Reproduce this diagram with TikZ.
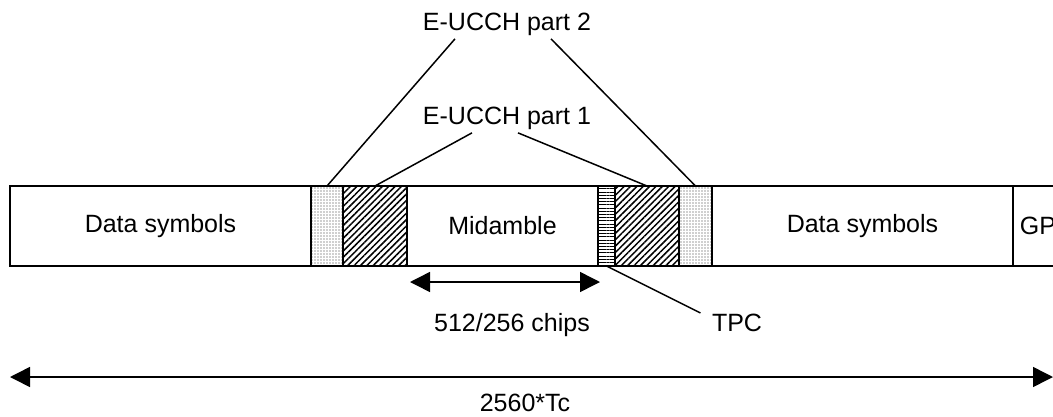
\documentclass[tikz,border=0pt]{standalone}
\usepackage{fontspec}
\setmainfont{Liberation Sans}
\usetikzlibrary{positioning, patterns.meta, arrows.meta, calc}

\tikzset{
    seg/.style={draw, line width=1.5pt, minimum height=80pt, inner sep=0pt, outer sep=0pt},
    dotbox/.style={seg, pattern={Dots[distance=3pt, radius=0.55pt]}, pattern color=black!80},
    hatchbox/.style={seg, pattern={Lines[angle=45, distance=4.5pt, line width=1.5pt]}},
    tpcbox/.style={seg, pattern={Lines[angle=0, distance=3.2pt, line width=1pt]}},
    lead/.style={line width=1.5pt},
}

\begin{document}
\begin{tikzpicture}[x=1pt, y=-1pt, >={Triangle[length=20pt, width=20pt]}, font=\fontsize{25}{30}\selectfont]
    \useasboundingbox (0,0) rectangle (1053,416);
    \clip (0,0) rectangle (1053,416);
    % the burst
    \node[seg, minimum width=301pt, anchor=west] (data1) at (10,226) {Data symbols};
    \node[dotbox, minimum width=32pt, right=0pt of data1] (dots1) {};
    \node[hatchbox, minimum width=64pt, right=0pt of dots1] (hatch1) {};
    \node[seg, minimum width=191pt, right=0pt of hatch1] (mid) {Midamble};
    \node[tpcbox, minimum width=17pt, right=0pt of mid] (tpc) {};
    \node[hatchbox, minimum width=64pt, right=0pt of tpc] (hatch2) {};
    \node[dotbox, minimum width=33pt, right=0pt of hatch2] (dots2) {};
    \node[seg, minimum width=301pt, right=0pt of dots2] (data2) {Data symbols};
    \node[seg, minimum width=50pt, right=0pt of data2] (gp) {GP};
    % E-UCCH labels
    \node (part2) at (507,24) {E-UCCH part 2};
    \node (part1) at (507,118) {E-UCCH part 1};
    \draw[lead] ($(part2.south)+(-52,0)$) -- (dots1.north);
    \draw[lead] ($(part2.south)+(44,0)$) -- (dots2.north);
    \draw[lead] ($(part1.south)+(-35,0)$) -- (hatch1.north);
    \draw[lead] ($(part1.south)+(11,0)$) -- (hatch2.north);
    % TPC
    \node (tpclbl) at (737,323) {TPC};
    \draw[lead] (tpc.south) -- ($(tpclbl.west)+(-8,-10)$);
    % lengths
    \draw[lead, <->] ($(mid.south west)+(3,16)$) -- ($(tpc.south west)+(2,16)$);
    \node (chips) at (512,325) {512/256 chips};
    \coordinate (frame start) at (10,377);
    \coordinate (frame end) at (1053,377);
    \draw[lead, <->] (frame start) -- (frame end);
    \node (frame) at (525,403) {2560*Tc};
\end{tikzpicture}
\end{document}
